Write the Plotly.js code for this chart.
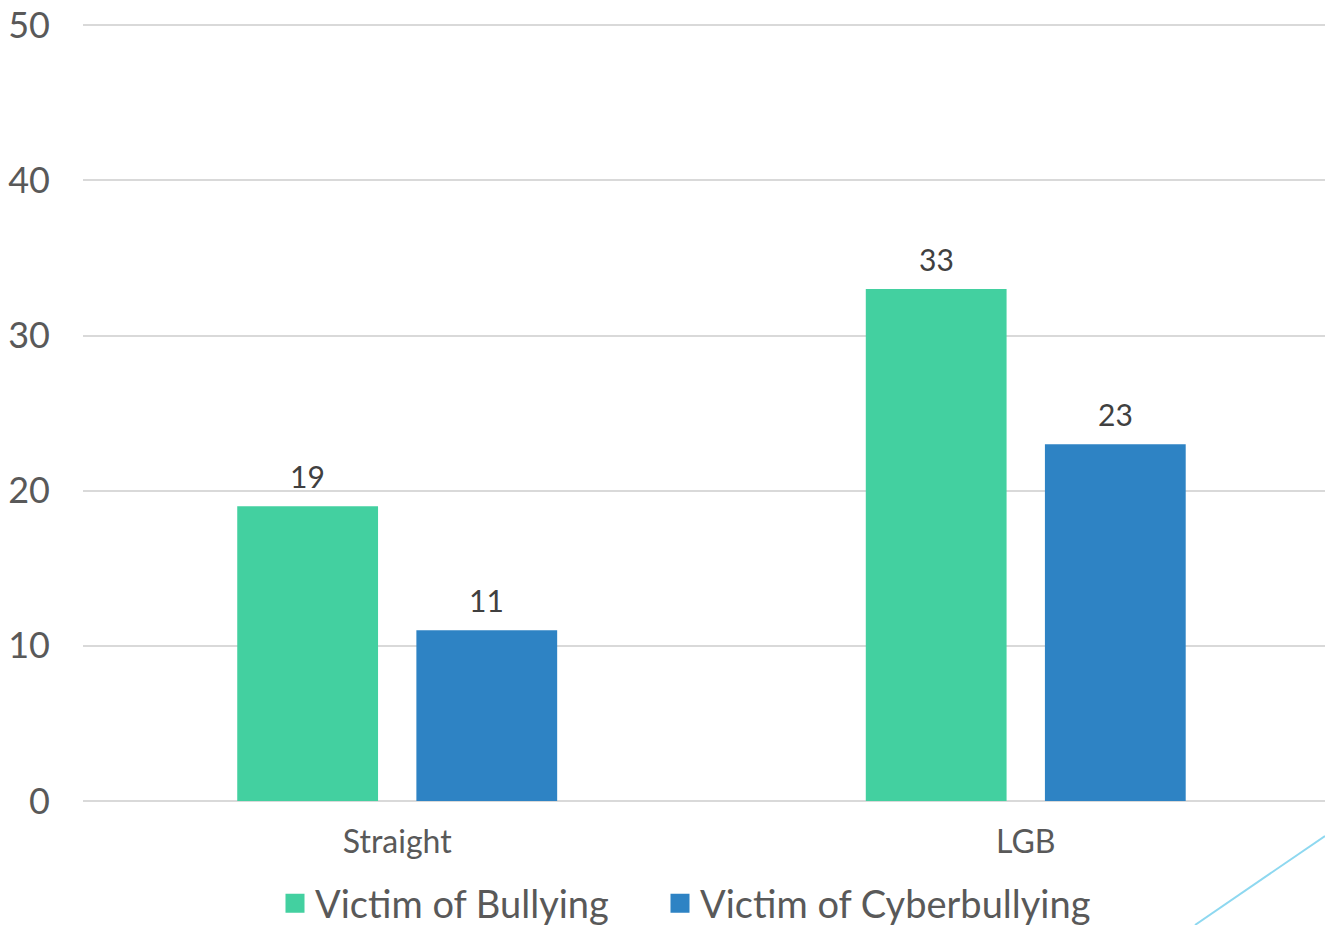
<!DOCTYPE html>
<html>
<head>
<meta charset="utf-8">
<script src="https://cdn.plot.ly/plotly-3.0.1.min.js"></script>
<style>html,body{margin:0;padding:0;background:#fff;}#chart{width:1325px;height:925px;}</style>
</head>
<body>
<div id="chart"></div>
<script>
const categories = ["Straight", "LGB"];
const seriesNames = ["Victim of Bullying", "Victim of Cyberbullying"];
const bullying = [19, 33];
const cyberbullying = [11, 23];
const yTicks = [0, 10, 20, 30, 40, 50];

const colors = ["#43D0A0", "#2E83C4"];
const FONT = "Lato, 'Open Sans', sans-serif";
const offsets = [-0.2546, 0.0304];
const BW = 0.224;

function barTrace(name, vals, color, offset) {
  return {
    type: "bar",
    name: name,
    x: categories,
    y: vals,
    width: BW,
    offset: offset,
    marker: {color: color},
    showlegend: false
  };
}
function legendTrace(name, color, legendId) {
  return {
    type: "scatter", mode: "markers", name: name,
    x: [null], y: [null],
    marker: {symbol: "square", size: 16, color: color, line: {color: color, width: 3}},
    showlegend: true,
    legend: legendId
  };
}

const data = [
  barTrace(seriesNames[0], bullying, colors[0], offsets[0]),
  barTrace(seriesNames[1], cyberbullying, colors[1], offsets[1]),
  legendTrace(seriesNames[0], colors[0], "legend"),
  legendTrace(seriesNames[1], colors[1], "legend2")
];

const annotations = [];
[bullying, cyberbullying].forEach((vals, s) => {
  vals.forEach((v, i) => {
    annotations.push({
      x: i + offsets[s] + BW / 2, y: v, xref: "x", yref: "y",
      text: String(v), showarrow: false,
      yanchor: "bottom", yshift: 10,
      font: {family: FONT, size: 30, color: "#404040"}
    });
  });
});

function legendBox(leftPx) {
  return {
    orientation: "h",
    x: (leftPx - 83) / 1242, xanchor: "left",
    y: (801 - 872) / 777, yanchor: "top",
    font: {family: FONT, size: 38, color: "#595959"},
    itemsizing: "trace",
    itemwidth: 30,
    bgcolor: "rgba(0,0,0,0)",
    tracegroupgap: 0
  };
}

const layout = {
  width: 1325, height: 925,
  margin: {l: 83, r: 0, t: 24, b: 124, autoexpand: false},
  paper_bgcolor: "#fff", plot_bgcolor: "#fff",
  font: {family: FONT, color: "#595959"},
  barmode: "overlay",
  xaxis: {
    type: "category",
    range: [-0.5, 1.476],
    showgrid: false, zeroline: false, showline: false,
    ticks: "",
    tickfont: {family: FONT, size: 32, color: "#595959"},
    ticklabelstandoff: 19
  },
  yaxis: {
    range: [0, 50.08],
    tickvals: yTicks,
    ticktext: yTicks.map(String),
    showgrid: true, gridcolor: "#D9D9D9", gridwidth: 2,
    zeroline: true, zerolinecolor: "#D9D9D9", zerolinewidth: 2,
    showline: false, ticks: "",
    tickfont: {family: FONT, size: 36, color: "#595959"},
    ticklabelstandoff: 32
  },
  legend: legendBox(275),
  legend2: legendBox(660),
  annotations: annotations,
  shapes: [{
    type: "line", xref: "paper", yref: "paper",
    x0: (1195 - 83) / 1242, y0: (801 - 925) / 777,
    x1: 1.0, y1: (801 - 836) / 777,
    line: {color: "#8ED8F0", width: 2}
  }]
};

Plotly.newPlot("chart", data, layout, {displayModeBar: false, staticPlot: true});
</script>
</body>
</html>
